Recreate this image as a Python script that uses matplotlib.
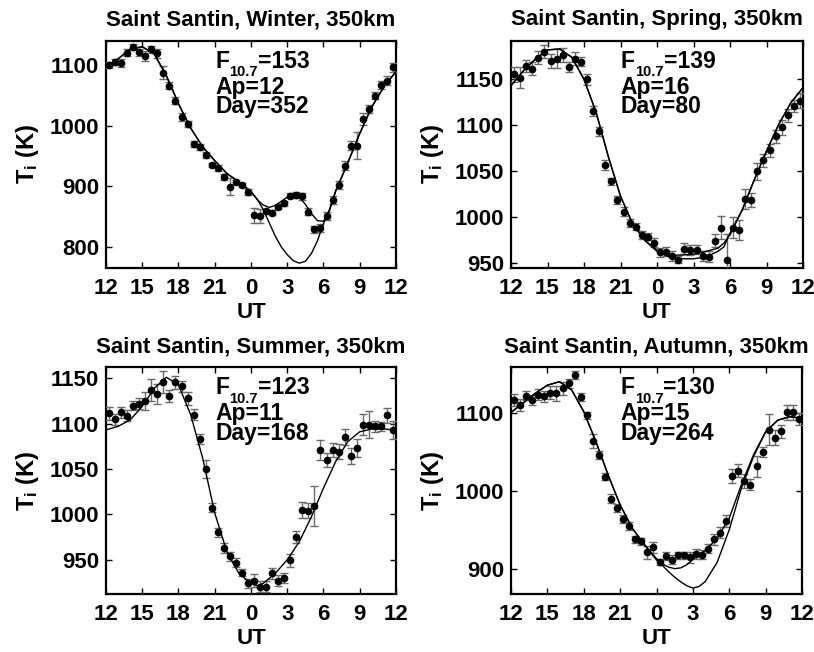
import numpy as np
import matplotlib
matplotlib.use("Agg")
import matplotlib.pyplot as plt

plt.rcParams['font.family'] = ['Liberation Sans', 'DejaVu Sans']
plt.rcParams['font.weight'] = 'bold'
plt.rcParams['mathtext.fontset'] = 'custom'
plt.rcParams['mathtext.rm'] = 'Liberation Sans:bold'
plt.rcParams['mathtext.it'] = 'Liberation Sans:bold'
plt.rcParams['mathtext.bf'] = 'Liberation Sans:bold'
plt.rcParams['mathtext.default'] = 'bf'

# ---------------- data ----------------
# observation times (hours from 12 UT on day 1 to 12 UT on day 2)
t_obs = 12.25 + 0.5 * np.arange(48)

# Winter
winter_ti = [1100, 1105, 1103, 1120, 1129, 1121, 1115, 1126, 1119, 1087, 1066, 1041,
             1014, 1002, 969, 965, 951, 935, 930, 915, 899, 907, 902, 891,
             852, 851, 859, 856, 866, 872, 884, 885, 883, 858, 829, 831,
             851, 877, 902, 934, 967, 967, 1011, 1027, 1049, 1067, 1074, 1096]
winter_err = [5.5, 5, 6, 6, 5, 6, 8, 6, 7, 11, 6, 6,
              6, 5, 5, 5, 5, 4, 5, 5, 14, 4, 4, 5,
              12, 11, 4, 4, 4, 4, 4, 5, 5, 6, 6, 6,
              7, 7, 7, 7, 7, 22, 10, 7, 6, 6, 7, 8]
winter_model_t = [12, 13, 14, 15, 16, 17, 18, 19, 20, 21, 22, 23, 24,
                  24.5, 25, 25.5, 26, 26.5, 27, 27.5, 28, 28.5, 29, 29.5, 30, 30.5,
                  31, 32, 33, 34, 35, 36]
winter_model_a = [1097, 1110, 1126, 1130, 1118, 1082, 1036, 996, 965, 942, 921, 907, 891,
                  878, 869, 865, 868, 875, 882, 885, 882, 870, 855, 843, 842, 860,
                  891, 938, 987, 1031, 1064, 1089]
winter_model_b = [1097, 1110, 1126, 1130, 1118, 1082, 1036, 996, 965, 942, 921, 907, 891,
                  879, 862, 840, 818, 800, 787, 777, 773, 776, 789, 810, 838, 862,
                  892, 938, 987, 1031, 1064, 1089]

# Spring
spring_ti = [1155.5, 1152, 1164.5, 1161.5, 1173.5, 1180, 1170, 1172.5, 1176.5, 1163.5, 1172.5, 1169,
             1150, 1115.5, 1093.5, 1057, 1039, 1019, 1006, 994, 990, 981, 979, 972.5,
             962, 962.5, 958, 954, 966, 964.5, 965, 958, 957, 974.5, 989, 954,
             989, 986.5, 1020, 1019, 1050, 1062, 1073, 1088, 1098, 1111, 1121, 1127]
spring_err = [8, 11, 7, 7, 7, 7, 8, 10, 8, 5, 7, 5,
              6, 5, 5, 5, 4, 4, 5, 4, 4, 4, 4, 5,
              5, 5, 5, 4, 6, 5, 5, 5, 6, 7, 12, 28,
              11, 11, 11, 8, 9, 7, 7, 7, 8, 7, 7, 8]
spring_model_t = [12, 13, 14, 15, 16, 17, 18, 19, 20, 21, 22, 23, 24,
                  25, 26, 27, 28, 29, 29.5, 30, 31, 32, 33, 34, 35, 36]
spring_model_a = [1143, 1159, 1172, 1182, 1183, 1174, 1150, 1114, 1066, 1023, 993, 975, 964.5,
                  959, 959, 960, 963, 966.5, 972, 981, 1008, 1041, 1072, 1101, 1124.5, 1141]
spring_model_b = [1143, 1159, 1172, 1182, 1183, 1174, 1150, 1114, 1066, 1023, 993, 975, 963,
                  957, 955, 955, 957, 963, 968, 983, 1008, 1041, 1072, 1101, 1124.5, 1141]

# Summer
summer_ti = [1111.5, 1105, 1112.5, 1108.5, 1119.5, 1122, 1125, 1137, 1132.5, 1146, 1130.5, 1145.5,
             1141, 1128, 1110, 1083, 1050, 1007.5, 980.5, 963, 954, 947, 936, 924,
             927, 920.5, 920.5, 935, 927, 930, 949.5, 975, 1004.5, 1004, 1009.5, 1071,
             1060, 1071, 1069, 1085, 1064, 1073, 1099, 1099, 1097, 1097, 1109, 1093]
summer_err = [7, 6, 6, 6, 5, 6, 10, 12, 11, 12, 7, 7,
              6, 7, 6, 6, 10, 5, 5, 6, 5, 5, 4, 5,
              7, 6, 6, 6, 6, 6, 7, 7, 9, 8, 22, 11,
              8, 8, 8, 9, 9, 10, 12, 15, 6, 5, 8, 10]
summer_model_t = [12, 13, 14, 15, 16, 17, 18, 19, 20, 21, 22, 23, 24, 24.5,
                  25, 26, 27, 28, 29, 30, 31, 32, 33, 34, 35, 36]
summer_model = [1093, 1097, 1104, 1119, 1139, 1151, 1142.5, 1110, 1062, 1001.5, 959, 935, 924, 921.5,
                924, 935, 950, 970, 997.5, 1029, 1058, 1080, 1091, 1094, 1094, 1093]

# Autumn
autumn_ti = [1117, 1110.5, 1122.5, 1117, 1123.5, 1122, 1126.5, 1125.5, 1132, 1138.5, 1149, 1121,
             1097, 1064.5, 1046.5, 1018.5, 990, 978, 964, 954.5, 937.5, 935, 921, 927.5,
             908.5, 916, 911.5, 917, 917, 914.5, 919, 918, 925.5, 937.5, 946, 961,
             1019.5, 1026, 1013, 1008, 1031.5, 1050, 1078.5, 1068.5, 1076.5, 1101, 1101, 1092.5]
autumn_err = [8, 8, 6, 6, 7, 7, 8, 10, 8, 6, 5, 5,
              5, 9, 5, 5, 6, 5, 5, 5, 5, 5, 8, 7,
              4, 5, 6, 5, 5, 7, 6, 6, 6, 7, 7, 8,
              9, 8, 9, 7, 13, 6, 20, 10, 8, 10, 10, 8]
autumn_model_t = [12, 13, 14, 15, 16, 17, 18, 19, 20, 21, 22, 23, 24,
                  24.5, 25, 25.5, 26, 26.5, 27, 27.5, 28, 29, 30, 31, 32, 33, 34, 35, 36]
autumn_model_a = [1101, 1113, 1125.5, 1136, 1140.5, 1130, 1102, 1063.5, 1021, 982, 952, 931, 913,
                  906, 902, 900, 901, 905, 912, 918, 923, 939, 965, 1008, 1046.5, 1076, 1091, 1095.5, 1093.5]
autumn_model_b = [1101, 1113, 1125.5, 1136, 1140.5, 1130, 1102, 1063.5, 1021, 982, 952, 931, 911,
                  904, 896, 889, 883, 878, 875, 877, 883, 908, 950, 1003.5, 1044, 1076, 1091, 1095.5, 1093.5]

panels = [
    dict(title='Saint Santin, Winter, 350km', ti=winter_ti, err=winter_err,
         mt=winter_model_t, models=[winter_model_a, winter_model_b],
         ylim=(765, 1140), yticks=[800, 900, 1000, 1100], f107=153, ap=12, day=352),
    dict(title='Saint Santin, Spring, 350km', ti=spring_ti, err=spring_err,
         mt=spring_model_t, models=[spring_model_a, spring_model_b],
         ylim=(945, 1192), yticks=[950, 1000, 1050, 1100, 1150], f107=139, ap=16, day=80),
    dict(title='Saint Santin, Summer, 350km', ti=summer_ti, err=summer_err,
         mt=summer_model_t, models=[summer_model],
         ylim=(912, 1162), yticks=[950, 1000, 1050, 1100, 1150], f107=123, ap=11, day=168),
    dict(title='Saint Santin, Autumn, 350km', ti=autumn_ti, err=autumn_err,
         mt=autumn_model_t, models=[autumn_model_a, autumn_model_b],
         ylim=(867, 1159), yticks=[900, 1000, 1100], f107=130, ap=15, day=264),
]

xticks = [12, 15, 18, 21, 24, 27, 30, 33, 36]
xticklabels = ['12', '15', '18', '21', '0', '3', '6', '9', '12']

fig = plt.figure(figsize=(8.14, 6.52), dpi=100)
positions = [
    [106/814, 1-268/652, 290/814, 227.3/652],
    [511/814, 1-268/652, 292/814, 227.3/652],
    [106/814, 1-594.3/652, 290/814, 227/652],
    [511/814, 1-594.3/652, 291/814, 227/652],
]

FS = 16
FA = 16.5
for pos, p in zip(positions, panels):
    ax = fig.add_axes(pos)
    ax.errorbar(t_obs, p['ti'], yerr=p['err'], fmt='o', color='black', ms=4.5,
                ecolor='#6a6a6a', elinewidth=1.0, capsize=3, capthick=1.0, zorder=3)
    for m in p['models']:
        ax.plot(p['mt'], m, color='black', lw=1.0, zorder=4)
    ax.set_xlim(12, 36)
    ax.set_ylim(*p['ylim'])
    ax.set_xticks(xticks)
    ax.set_xticklabels(xticklabels)
    ax.set_yticks(p['yticks'])
    ax.tick_params(direction='in', top=True, right=True, length=4, width=1,
                   labelsize=FS)
    ax.tick_params(axis='x', pad=7)
    ax.tick_params(axis='y', pad=5)
    for lab in ax.get_xticklabels() + ax.get_yticklabels():
        lab.set_fontweight('bold')
    for s in ax.spines.values():
        s.set_linewidth(1.6)
    ax.set_title(p['title'], fontsize=FS, fontweight='bold', pad=11)
    ax.set_xlabel('UT', fontsize=FS, fontweight='bold', labelpad=2)
    ax.set_ylabel(r'T$_\mathbf{i}$ (K)', fontsize=17, fontweight='bold', labelpad=6)

    ftxt = ax.text(0.376, 0.882, 'F', transform=ax.transAxes,
                   fontsize=FA, fontweight='bold', va='baseline', ha='left')
    sub = ax.annotate('10.7', xy=(1, 0.882), xycoords=(ftxt, 'axes fraction'),
                      xytext=(0.3, -6.3), textcoords='offset points',
                      fontsize=10.5, fontweight='bold', va='baseline', ha='left')
    ax.annotate('=%d' % p['f107'], xy=(1, 0.882), xycoords=(sub, 'axes fraction'),
                xytext=(0, 0), textcoords='offset points',
                fontsize=FA, fontweight='bold', va='baseline', ha='left')
    ax.text(0.376, 0.766, 'Ap=%d' % p['ap'], transform=ax.transAxes,
            fontsize=FA, fontweight='bold', va='baseline', ha='left')
    ax.text(0.376, 0.680, 'Day=%d' % p['day'], transform=ax.transAxes,
            fontsize=FA, fontweight='bold', va='baseline', ha='left')

fig.savefig('out.png', dpi=100)
